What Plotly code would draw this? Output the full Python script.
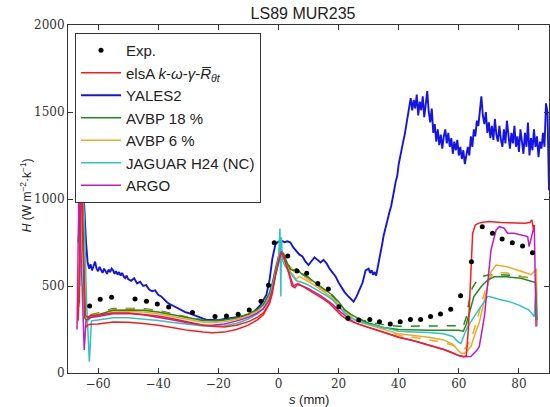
import plotly.graph_objects as go

# ---------------- data ----------------
exp_x = [-62.8, -59.3, -55.5, -47.7, -43.9, -40.3, -36.5, -28.6, -21.1, -17.3, -13.4, -9.7,
         -5.8, -3.3, -1.4, 3.1, 6.2, 9.4, 13.1, 16.6, 20.1, 23.1, 26.7, 30.4, 33.6, 37.2,
         40.5, 43.9, 47.3, 50.6, 53.9, 57.3, 60.6, 64.2, 67.8, 71.2, 74.4, 77.8, 81.2, 84.5]
exp_h = [385, 424, 435, 425, 412, 397, 379, 347, 324, 328, 337, 362,
         412, 504, 749, 672, 586, 573, 515, 483, 381, 314, 305, 308, 295, 282,
         295, 308, 308, 324, 339, 366, 444, 640, 841, 803, 770, 749, 730, 691]

elsa_x = [-66.6, -66.0, -65.4, -64.8, -64.2, -63.5, -62.5, -60, -55, -50, -45, -40, -35, -30,
          -25, -22, -18, -14, -10, -7, -5, -3, -2, -1, 0, 0.7, 1.5, 2.5, 3.5, 4.5, 5.5, 6.5,
          7.5, 9, 11, 13, 15, 17, 19, 21, 23, 25, 27, 30, 35, 40, 45, 50, 55, 58, 60, 61.5,
          62.5, 63.2, 63.8, 64.6, 65.5, 66.5, 68, 70, 74, 78, 82, 83.6, 84.3, 84.8, 85.2]
elsa_h = [300, 700, 1150, 700, 330, 320, 330, 333, 345, 345, 338, 328, 312, 293,
          275, 268, 265, 275, 295, 320, 345, 400, 460, 560, 650, 690, 680, 630, 570, 500, 490, 515,
          505, 485, 465, 445, 425, 400, 365, 330, 305, 290, 278, 262, 235, 205, 185, 162, 135, 115, 100, 94,
          100, 260, 520, 803, 851, 860, 866, 870, 865, 862, 860, 865, 880, 830, 850]

elsa2_x = [-64.3, -63.5, -62.5, -60, -55, -50, -45, -40, -35, -30, -25, -22, -18, -14, -10, -7, -5, -3, -2]
elsa2_h = [260, 275, 280, 282, 293, 292, 285, 275, 260, 245, 235, 232, 235, 250, 275, 305, 335, 400, 470]

yales_x = [-66.5, -66, -65.5, -65, -64.5, -64, -63.5, -63, -62.5, -62, -61.5, -61, -60.5, -60,
           -59.5, -59, -58.5, -58, -57.5, -57, -56.5, -56, -55.5, -55, -54.5, -54, -53.5, -53,
           -52.5, -52, -51.5, -51, -50.5, -50, -49, -48, -47, -46, -45, -44, -43, -42, -41, -40,
           -39, -38, -37, -36, -35, -34, -33, -32, -31, -30, -29, -28, -27, -26, -25, -24, -23,
           -22, -20, -18, -16, -14, -12, -10, -8, -6, -4, -3, -2, -1, 0, 1, 2, 3, 4, 5, 6, 7, 8,
           9, 10, 11, 12, 13, 14, 15, 16, 17, 18, 19, 20, 21, 22, 23, 24, 25, 26, 27, 28, 29, 30,
           30.5, 31, 31.5, 32, 32.5, 33, 33.5, 34, 34.5, 35, 35.5, 36, 36.5, 37, 37.5, 38, 38.5,
           39, 39.5, 40, 40.5, 41, 41.5, 42, 42.5, 43, 43.5, 44, 44.5, 45, 45.5, 46, 46.5, 47,
           47.5, 48, 48.5, 49, 49.5, 50, 50.5, 51, 51.5, 52, 52.5, 53, 53.5, 54, 54.5, 55, 55.5,
           56, 56.5, 57, 57.5, 58, 58.5, 59, 59.5, 60, 60.5, 61, 61.5, 62, 62.5, 63, 63.5, 64,
           64.5, 65, 65.5, 66, 66.5, 67, 67.5, 68, 68.5, 69, 69.5, 70, 70.5, 71, 71.5, 72, 72.5,
           73, 73.5, 74, 74.5, 75, 75.5, 76, 76.5, 77, 77.5, 78, 78.5, 79, 79.5, 80, 80.5, 81,
           81.5, 82, 82.5, 83, 83.5, 84, 84.5, 85, 85.5, 86, 86.5, 87, 87.5, 88, 88.5, 89, 89.5, 90]
yales_h = [750, 1050, 1200, 1100, 900, 750, 640, 600, 625, 590, 615, 640, 600, 585,
           610, 595, 575, 600, 585, 570, 595, 580, 600, 590, 570, 585, 565, 580,
           560, 575, 555, 545, 560, 540, 530, 545, 515, 525, 500, 505, 480, 470, 475, 450,
           440, 420, 405, 395, 385, 375, 370, 360, 350, 345, 338, 330, 322, 318, 312, 306, 305,
           302, 304, 310, 315, 320, 325, 335, 355, 390, 450, 530, 660, 740, 755, 760, 752, 757, 750, 720, 700, 680, 670,
           640, 620, 640, 665, 650, 635, 650, 630, 600, 580, 555, 520, 490, 465, 445, 425, 410, 440, 480, 520, 590, 600,
           575, 590, 565, 580, 560, 600, 660, 700, 740, 790, 830, 860, 900, 930, 960, 1000, 1050,
           1100, 1130, 1200, 1250, 1290, 1330, 1370, 1420, 1470, 1530, 1580, 1510, 1570, 1520, 1600, 1480, 1560,
           1510, 1590, 1470, 1540, 1620, 1500, 1440, 1520, 1380, 1430, 1330, 1400, 1310, 1370, 1290, 1360, 1400,
           1320, 1380, 1300, 1350, 1260, 1330, 1280, 1340, 1250, 1300, 1230, 1280, 1200, 1260, 1300, 1250, 1360,
           1300, 1400, 1360, 1450, 1420, 1520, 1590, 1480, 1430, 1500, 1380, 1440, 1350, 1420, 1340, 1460, 1370,
           1330, 1420, 1340, 1300, 1400, 1320, 1450, 1350, 1290, 1380, 1320, 1420, 1300, 1360, 1270, 1400, 1310,
           1260, 1380, 1300, 1440, 1250, 1350, 1280, 1400, 1300, 1360, 1240, 1330, 1290, 1380, 1300, 1550, 1500, 1050]

avbp18_x = [-66.3, -65.7, -65.1, -64.5, -63.8, -62.5, -60, -55, -50, -45, -40, -35, -30, -25, -22,
            -18, -14, -10, -7, -5, -3, -2, -1, 0, 1, 2, 3, 4, 5, 6, 8, 10, 12, 14, 16, 18, 20, 22,
            24, 26, 28, 30, 35, 40, 45, 50, 55, 60, 61.5, 62.5, 63.5, 65, 67.4, 69.6, 71.8, 76,
            80.7, 84, 85.5, 86]
avbp18_h = [400, 1150, 800, 320, 300, 320, 335, 360, 362, 360, 350, 333, 315, 302, 300,
            305, 318, 340, 365, 395, 460, 520, 600, 670, 700, 670, 630, 595, 590, 600, 565, 548, 522, 497, 472, 447, 410, 365,
            338, 318, 300, 287, 262, 250, 246, 245, 246, 245, 240, 280, 343, 439, 496, 534, 553, 553,
            544, 525, 520, 305]

avbp18b_x = [-62.5, -60, -55, -50, -45, -40, -35, -30, -25, -22, -18, -14, -10, -7, -5, -3, -1, 0, 1,
             2, 3, 4, 5, 6, 8, 10, 12, 14, 16, 18, 20, 22, 24, 26, 28, 30, 35, 40, 45, 50, 55, 60,
             61.5, 62.5, 63.5, 64.5, 66, 68, 70, 74, 78, 82, 84.5]
avbp18b_h = [335, 345, 370, 372, 370, 360, 340, 320, 305, 300, 303, 315, 335, 360, 390, 450, 560, 650, 700,
             680, 640, 600, 590, 600, 570, 550, 520, 490, 470, 440, 400, 360, 335, 318, 303, 293, 278, 268, 270, 272, 274, 272,
             270, 320, 420, 490, 530, 555, 565, 565, 560, 550, 545]

avbp6_x = [-66.2, -65.6, -65.0, -64.3, -63.6, -62.5, -60, -55, -50, -45, -40, -35, -30, -25, -22, -18,
           -14, -10, -7, -5, -3, -2, -1, 0, 1, 2, 3, 4, 5, 6, 7, 8, 10, 12, 14, 16, 18, 20, 22, 24,
           26, 28, 30, 35, 40, 45, 50, 55, 58, 60, 61, 62, 64, 65.5, 66.8, 68, 69, 70.7, 72.4, 76,
           80.7, 84, 85.5, 85.8, 86.1]
avbp6_h = [380, 1100, 700, 310, 300, 318, 328, 350, 353, 350, 341, 324, 305, 292, 290, 295,
           308, 330, 355, 385, 440, 500, 580, 650, 690, 665, 620, 580, 560, 540, 555, 545, 525, 505, 480, 455, 430, 390, 350, 322,
           302, 287, 276, 250, 225, 215, 205, 190, 165, 125, 113, 115, 150, 230, 290, 380, 458, 582, 621, 611,
           585, 565, 590, 600, 270]

avbp6b_x = [-62.5, -60, -55, -50, -45, -40, -35, -30, -25, -22, -18, -14, -10, -7, -5, -3, -1, 0, 1, 2,
            3, 5, 8, 12, 16, 20, 24, 28, 30, 35, 40, 45, 50, 55, 58, 60, 62, 64, 66, 68, 70, 72, 76,
            80, 84, 85.5]
avbp6b_h = [330, 340, 365, 368, 365, 355, 336, 317, 302, 297, 300, 312, 333, 358, 388, 448, 560, 650, 695, 675,
            635, 585, 560, 515, 465, 395, 330, 295, 283, 255, 215, 205, 190, 175, 160, 140, 140, 190, 300, 430, 540, 580, 575,
            560, 540, 560]

jaguar_x = [-66.0, -65.3, -64.6, -63.8, -62.9, -62.2, -60, -55, -50, -45, -40, -35, -30, -25, -22, -18,
            -14, -10, -7, -5, -3, -2, -1, 0, 0.5, 0.8, 1.0, 1.3, 2, 3, 4, 5, 6, 8, 10, 12, 14, 16,
            18, 20, 22, 24, 26, 28, 30, 35, 40, 45, 50, 55, 58, 60, 60.7, 62, 63, 65.1, 67.4, 69.6,
            70.1, 73, 76.8, 80, 83.4, 85.1, 85.5, 85.8]
jaguar_h = [500, 1200, 900, 400, 65, 300, 305, 318, 318, 312, 302, 290, 278, 270, 268, 272,
            285, 310, 340, 370, 430, 500, 580, 650, 830, 440, 780, 650, 620, 600, 575, 550, 530, 520, 505, 485, 465, 445,
            420, 385, 345, 318, 300, 290, 280, 262, 240, 236, 233, 225, 210, 175, 170, 230, 266, 324, 381, 439,
            440, 425, 410, 390, 362, 324, 440, 300]

argo_x = [-67.0, -66.3, -65.7, -65.2, -64.6, -64.0, -63.0, -62.0, -60, -55, -50, -45, -40, -35, -30, -25,
          -22, -18, -14, -10, -7, -5, -3, -2, -1, 0, 1, 2, 3, 4, 5, 6, 8, 10, 12, 14, 16, 18, 20, 22,
          24, 26, 28, 30, 35, 40, 45, 50, 55, 58, 60, 61.8, 64, 66, 66.8, 68.5, 69.6, 70.7, 72.4, 73.5,
          75.1, 76.2, 78.4, 80.7, 82.9, 83.4, 84.6, 85.1, 85.7]
argo_h = [250, 1150, 700, 400, 132, 300, 320, 322, 325, 340, 342, 335, 322, 305, 288, 276,
          275, 282, 298, 320, 345, 370, 420, 480, 560, 640, 700, 650, 600, 540, 500, 510, 500, 485, 465, 445, 420, 395, 360, 330,
          305, 285, 272, 262, 235, 205, 185, 162, 135, 115, 100, 94, 95, 130, 151, 324, 515, 707, 822, 841,
          832, 803, 803, 793, 784, 726, 812, 850, 266]

x_ticks = [-60, -40, -20, 0, 20, 40, 60, 80]
x_ticktext = ["\u221260", "\u221240", "\u221220", "0", "20", "40", "60", "80"]
y_ticks = [0, 500, 1000, 1500, 2000]
y_ticktext = ["0", "500", "1000", "1500", "2000"]

RED = "#ff1a1a"
BLUE = "#1414e6"
GREEN = "#1e8c1e"
ORANGE = "#f5a623"
CYAN = "#2cc5c5"
MAGENTA = "#c21bc2"

fig = go.Figure()

def line(x, y, name, color, rank, dash="solid", show=True, width=1.5):
    fig.add_trace(go.Scatter(x=x, y=y, mode="lines", name=name, showlegend=show,
                             legendgroup=name if show else None, legendrank=rank,
                             line=dict(color=color, width=width, dash=dash)))

line(yales_x, yales_h, "YALES2", BLUE, 3, width=1.9)
line(avbp18b_x, avbp18b_h, "AVBP 18 % b", GREEN, 100, dash="dash", show=False)
line(avbp6b_x, avbp6b_h, "AVBP 6 % b", ORANGE, 100, dash="dash", show=False)
line(avbp6_x, avbp6_h, "AVBP 6 %", ORANGE, 5)
line(avbp18_x, avbp18_h, "AVBP 18 %", GREEN, 4)
line(jaguar_x, jaguar_h, "JAGUAR H24 (NC)", CYAN, 6)
line(argo_x, argo_h, "ARGO", MAGENTA, 7)
line(elsa2_x, elsa2_h, "elsA 2", RED, 100, show=False)
line(elsa_x, elsa_h, "elsA <i>k</i>-<i>\u03c9</i>-<i>\u03b3</i>-<i>R\u0305</i><sub><i>\u03b8t</i></sub>", RED, 2)

fig.add_trace(go.Scatter(x=exp_x, y=exp_h, mode="markers", name="Exp.", legendgroup="Exp.",
                         legendrank=1, marker=dict(color="black", size=5)))

axis_common = dict(showgrid=False, zeroline=False, showline=True, linecolor="#333333",
                   linewidth=1, mirror="ticks", ticks="inside", ticklen=5, tickcolor="#333333",
                   tickfont=dict(family="DejaVu Serif", size=12, color="#333333"))

fig.update_layout(
    width=550, height=407,
    margin=dict(l=68, r=1, t=25, b=34),
    paper_bgcolor="white", plot_bgcolor="white",
    title=dict(text="LS89 MUR235", x=0.551, xanchor="center", y=0.967, yanchor="middle",
               font=dict(family="Liberation Sans", size=16, color="#222222")),
    xaxis=dict(range=[-70, 90], tickvals=x_ticks, ticktext=x_ticktext, **axis_common),
    yaxis=dict(range=[0, 2000], tickvals=y_ticks, ticktext=y_ticktext, **axis_common),
    legend=dict(x=0.0146, y=0.977, xanchor="left", yanchor="top", bgcolor="white",
                bordercolor="#333333", borderwidth=1, traceorder="grouped", tracegroupgap=0,
                itemwidth=40,
                font=dict(family="Liberation Sans", size=15, color="#222222")),
    showlegend=True,
    annotations=[
        dict(text="<i>s</i> (mm)", xref="paper", yref="paper", x=0.5, y=-0.075,
             xanchor="center", yanchor="middle", showarrow=False,
             font=dict(family="Liberation Sans", size=13, color="#222222")),
        dict(text="<i>H</i> (W m<sup>\u22122</sup>\u00b7k<sup>\u22121</sup>)", xref="paper", yref="paper",
             x=-0.088, y=0.51, xanchor="center", yanchor="middle", textangle=-90, showarrow=False,
             font=dict(family="Liberation Sans", size=12, color="#222222")),
    ],
)

fig.write_html("out.html", config={"displayModeBar": False},
               post_script="document.body.style.margin='0px';document.body.style.padding='0px';")
